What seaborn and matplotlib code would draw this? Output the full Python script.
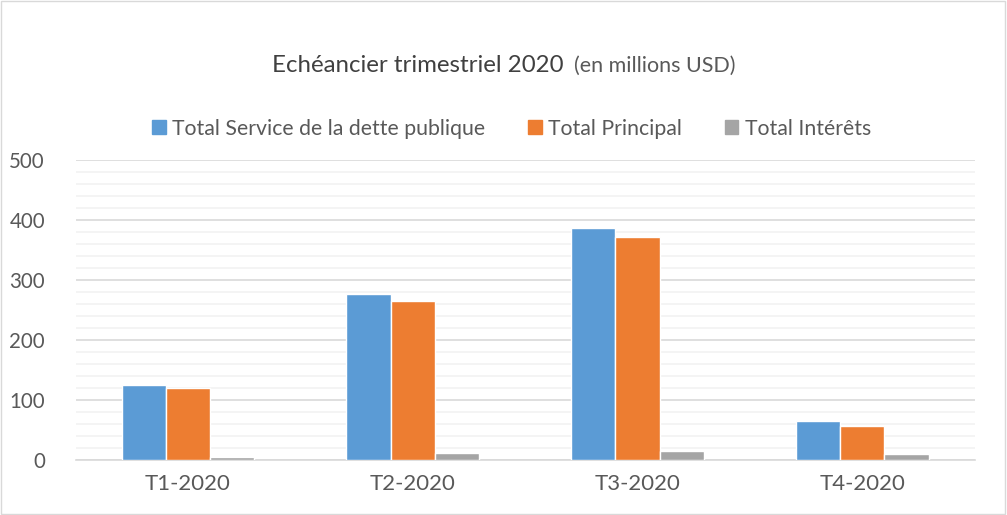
import matplotlib
matplotlib.use('Agg')
import matplotlib.pyplot as plt
import pandas as pd
import seaborn as sns
from matplotlib.ticker import MultipleLocator

# data (millions USD)
quarters = ["T1-2020", "T2-2020", "T3-2020", "T4-2020"]
service_total = [124, 277, 386, 65]
principal_total = [120, 265, 371, 56]
interest_total = [4, 12, 14, 9]
series_names = ["Total Service de la dette publique", "Total Principal", "Total Intérêts"]
colors = ["#5b9bd5", "#ed7d31", "#a5a5a5"]

df = pd.DataFrame({
    "Trimestre": quarters * 3,
    "Série": [series_names[0]] * 4 + [series_names[1]] * 4 + [series_names[2]] * 4,
    "Valeur": service_total + principal_total + interest_total,
})

sns.set_theme(style="white")
plt.rcParams['font.family'] = ['Lato', 'DejaVu Sans']

fig = plt.figure(figsize=(10.07, 5.15), dpi=100)
ax = fig.add_axes([0.075, 0.107, 0.893, 0.583])

sns.barplot(data=df, x="Trimestre", y="Valeur", hue="Série", palette=colors,
            width=0.59, gap=0, saturation=1, ax=ax, legend=False, zorder=3)

ax.set_ylim(0, 500)
ax.set_xlim(-0.5, 3.5)
ax.yaxis.set_major_locator(MultipleLocator(100))
ax.yaxis.set_minor_locator(MultipleLocator(20))
ax.grid(axis='y', which='major', color='#d9d9d9', linewidth=1.2)
ax.grid(axis='y', which='minor', color='#f2f2f2', linewidth=1.2)
ax.set_axisbelow(True)
for side in ['top', 'right', 'left']:
    ax.spines[side].set_visible(False)
ax.spines['bottom'].set_color('#d9d9d9')
ax.spines['bottom'].set_linewidth(1.2)
ax.spines['bottom'].set_zorder(1)
ax.set_xlabel("")
ax.set_ylabel("")
ax.tick_params(axis='x', length=0, labelsize=16, colors='#595959', pad=10)
ax.tick_params(axis='y', which='both', length=0, labelsize=14.8, colors='#595959', pad=22)

# title in two parts
fig.text(0.270, 0.872, "Echéancier trimestriel 2020", ha='left', va='center',
         fontsize=17.3, color='#404040')
fig.text(0.570, 0.872, "(en millions USD)", ha='left', va='center',
         fontsize=15.5, color='#595959')

handles = [plt.Rectangle((0, 0), 1, 1, color=c) for c in colors]
fig.legend(handles, series_names, loc='center', bbox_to_anchor=(0.508, 0.75), ncol=3,
           frameon=False, fontsize=15.3, handlelength=0.65, handleheight=0.65,
           handletextpad=0.3, columnspacing=2.0, labelcolor='#595959')

# light border around the chart
fig.patches.append(plt.Rectangle((0.001, 0.002), 0.997, 0.996, transform=fig.transFigure,
                                 fill=False, edgecolor='#d9d9d9', linewidth=1))

fig.savefig("out.png", dpi=100)
